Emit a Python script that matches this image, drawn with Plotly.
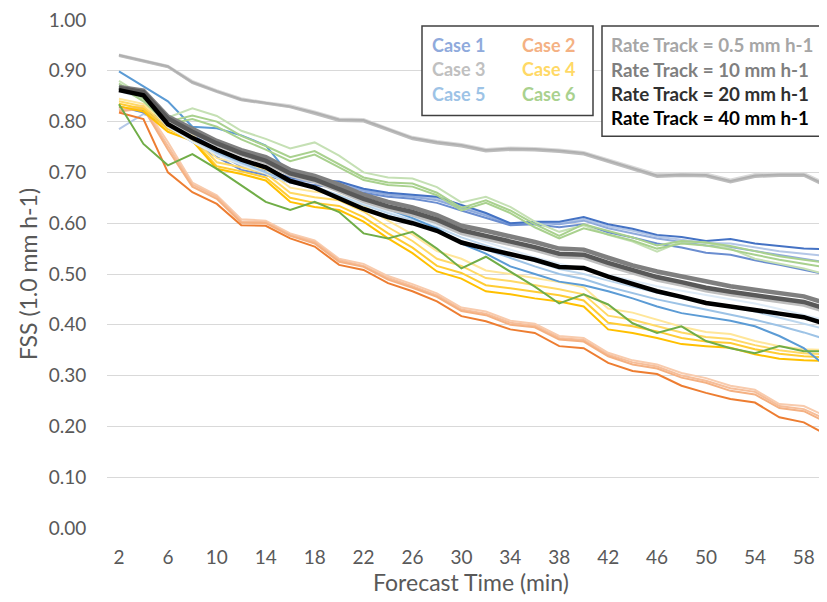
import plotly.graph_objects as go

# forecast lead time (min)
forecast_time = list(range(2, 61, 2))
x_tick_vals = list(range(2, 59, 4))
y_tick_vals = [0.0, 0.1, 0.2, 0.3, 0.4, 0.5, 0.6, 0.7, 0.8, 0.9, 1.0]

rate_labels = ["0.5", "10", "20", "40"]

# Case 1
c1_r05 = [0.785, 0.815, 0.798, 0.772, 0.742, 0.716, 0.703, 0.688, 0.683, 0.679, 0.666, 0.658, 0.654, 0.649, 0.633, 0.617, 0.599, 0.602, 0.600, 0.608, 0.594, 0.585, 0.574, 0.568, 0.561, 0.560, 0.552, 0.545, 0.540, 0.535]
c1_r10 = [0.828, 0.820, 0.795, 0.768, 0.738, 0.712, 0.700, 0.686, 0.680, 0.676, 0.664, 0.656, 0.652, 0.645, 0.630, 0.615, 0.598, 0.601, 0.598, 0.605, 0.590, 0.580, 0.570, 0.563, 0.556, 0.553, 0.545, 0.537, 0.530, 0.522]
c1_r20 = [0.830, 0.818, 0.790, 0.760, 0.730, 0.705, 0.695, 0.680, 0.675, 0.670, 0.660, 0.652, 0.648, 0.640, 0.625, 0.610, 0.596, 0.598, 0.592, 0.598, 0.582, 0.572, 0.560, 0.552, 0.542, 0.538, 0.527, 0.518, 0.508, 0.498]
c1_r40 = [0.826, 0.822, 0.800, 0.775, 0.745, 0.722, 0.705, 0.690, 0.685, 0.682, 0.668, 0.660, 0.656, 0.652, 0.636, 0.620, 0.600, 0.603, 0.603, 0.612, 0.598, 0.589, 0.577, 0.573, 0.565, 0.569, 0.560, 0.555, 0.550, 0.549]

# Case 2
c2_r05 = [0.825, 0.832, 0.760, 0.680, 0.655, 0.608, 0.605, 0.580, 0.566, 0.530, 0.520, 0.496, 0.480, 0.462, 0.434, 0.426, 0.408, 0.402, 0.378, 0.374, 0.345, 0.330, 0.322, 0.305, 0.295, 0.280, 0.272, 0.244, 0.240, 0.218]
c2_r10 = [0.822, 0.829, 0.752, 0.676, 0.652, 0.604, 0.602, 0.577, 0.563, 0.527, 0.516, 0.492, 0.476, 0.458, 0.430, 0.422, 0.404, 0.398, 0.374, 0.370, 0.341, 0.326, 0.318, 0.300, 0.290, 0.275, 0.268, 0.240, 0.234, 0.212]
c2_r20 = [0.820, 0.826, 0.745, 0.672, 0.648, 0.601, 0.600, 0.575, 0.560, 0.524, 0.514, 0.489, 0.473, 0.455, 0.427, 0.419, 0.400, 0.395, 0.371, 0.367, 0.338, 0.322, 0.314, 0.296, 0.286, 0.270, 0.263, 0.236, 0.230, 0.206]
c2_r40 = [0.818, 0.805, 0.700, 0.661, 0.638, 0.596, 0.595, 0.570, 0.554, 0.518, 0.508, 0.482, 0.466, 0.446, 0.417, 0.407, 0.391, 0.384, 0.358, 0.354, 0.325, 0.309, 0.303, 0.280, 0.266, 0.254, 0.247, 0.218, 0.208, 0.182]

# Case 3
c3_r05 = [0.932, 0.921, 0.910, 0.880, 0.862, 0.846, 0.838, 0.832, 0.820, 0.806, 0.805, 0.787, 0.770, 0.762, 0.756, 0.746, 0.749, 0.748, 0.745, 0.740, 0.726, 0.712, 0.697, 0.699, 0.698, 0.686, 0.697, 0.699, 0.699, 0.676]
c3_r10 = [0.930, 0.919, 0.908, 0.877, 0.860, 0.843, 0.836, 0.829, 0.817, 0.803, 0.802, 0.784, 0.767, 0.759, 0.753, 0.743, 0.746, 0.745, 0.742, 0.737, 0.722, 0.708, 0.693, 0.695, 0.694, 0.682, 0.693, 0.695, 0.695, 0.672]
c3_r20 = [0.929, 0.918, 0.907, 0.876, 0.858, 0.842, 0.835, 0.828, 0.815, 0.801, 0.800, 0.782, 0.765, 0.757, 0.751, 0.741, 0.744, 0.743, 0.740, 0.735, 0.720, 0.706, 0.691, 0.693, 0.692, 0.680, 0.691, 0.693, 0.693, 0.670]
c3_r40 = [0.931, 0.920, 0.909, 0.878, 0.860, 0.844, 0.837, 0.830, 0.818, 0.804, 0.803, 0.785, 0.768, 0.760, 0.754, 0.744, 0.747, 0.746, 0.743, 0.738, 0.723, 0.709, 0.694, 0.696, 0.695, 0.683, 0.694, 0.696, 0.696, 0.673]

# Case 4
c4_r05 = [0.845, 0.835, 0.795, 0.775, 0.728, 0.718, 0.706, 0.670, 0.662, 0.656, 0.635, 0.605, 0.578, 0.545, 0.530, 0.507, 0.500, 0.492, 0.484, 0.474, 0.432, 0.424, 0.410, 0.396, 0.386, 0.382, 0.368, 0.358, 0.352, 0.350]
c4_r10 = [0.840, 0.830, 0.790, 0.770, 0.720, 0.710, 0.698, 0.660, 0.651, 0.645, 0.623, 0.592, 0.565, 0.530, 0.516, 0.492, 0.486, 0.478, 0.470, 0.460, 0.418, 0.410, 0.398, 0.385, 0.376, 0.372, 0.360, 0.350, 0.344, 0.342]
c4_r20 = [0.835, 0.825, 0.785, 0.765, 0.712, 0.702, 0.690, 0.650, 0.640, 0.634, 0.612, 0.580, 0.552, 0.516, 0.502, 0.478, 0.472, 0.465, 0.458, 0.448, 0.404, 0.397, 0.387, 0.374, 0.367, 0.364, 0.352, 0.343, 0.338, 0.336]
c4_r40 = [0.830, 0.820, 0.780, 0.762, 0.707, 0.697, 0.684, 0.642, 0.632, 0.626, 0.603, 0.570, 0.541, 0.505, 0.491, 0.466, 0.460, 0.452, 0.446, 0.436, 0.391, 0.384, 0.374, 0.362, 0.358, 0.355, 0.342, 0.333, 0.330, 0.329]

# Case 5
c5_r05 = [0.860, 0.845, 0.790, 0.760, 0.735, 0.715, 0.698, 0.680, 0.670, 0.655, 0.638, 0.624, 0.610, 0.597, 0.578, 0.563, 0.548, 0.533, 0.520, 0.510, 0.498, 0.487, 0.476, 0.467, 0.459, 0.451, 0.442, 0.431, 0.420, 0.408]
c5_r10 = [0.865, 0.850, 0.795, 0.765, 0.738, 0.718, 0.700, 0.682, 0.672, 0.655, 0.636, 0.620, 0.606, 0.592, 0.572, 0.556, 0.540, 0.525, 0.510, 0.500, 0.487, 0.475, 0.463, 0.453, 0.445, 0.436, 0.426, 0.414, 0.402, 0.390]
c5_r20 = [0.870, 0.855, 0.800, 0.770, 0.740, 0.720, 0.700, 0.680, 0.670, 0.650, 0.630, 0.615, 0.600, 0.585, 0.565, 0.548, 0.532, 0.515, 0.500, 0.490, 0.475, 0.462, 0.450, 0.440, 0.430, 0.420, 0.410, 0.398, 0.385, 0.370]
c5_r40 = [0.899, 0.870, 0.840, 0.790, 0.787, 0.773, 0.753, 0.694, 0.688, 0.668, 0.645, 0.628, 0.610, 0.590, 0.560, 0.540, 0.515, 0.500, 0.485, 0.478, 0.466, 0.452, 0.436, 0.423, 0.415, 0.408, 0.397, 0.378, 0.354, 0.315]

# Case 6
c6_r05 = [0.880, 0.850, 0.808, 0.826, 0.811, 0.782, 0.766, 0.747, 0.759, 0.733, 0.700, 0.690, 0.688, 0.671, 0.641, 0.652, 0.632, 0.603, 0.583, 0.596, 0.577, 0.564, 0.544, 0.564, 0.562, 0.550, 0.530, 0.520, 0.511, 0.498]
c6_r10 = [0.875, 0.845, 0.800, 0.812, 0.800, 0.772, 0.752, 0.730, 0.742, 0.716, 0.690, 0.680, 0.678, 0.660, 0.630, 0.645, 0.625, 0.598, 0.575, 0.598, 0.585, 0.572, 0.556, 0.565, 0.562, 0.555, 0.545, 0.535, 0.528, 0.522]
c6_r20 = [0.870, 0.840, 0.795, 0.805, 0.790, 0.765, 0.745, 0.722, 0.735, 0.710, 0.685, 0.675, 0.672, 0.655, 0.625, 0.640, 0.620, 0.592, 0.570, 0.590, 0.578, 0.566, 0.550, 0.560, 0.556, 0.548, 0.538, 0.528, 0.520, 0.512]
c6_r40 = [0.834, 0.756, 0.714, 0.736, 0.707, 0.675, 0.642, 0.626, 0.642, 0.622, 0.580, 0.570, 0.583, 0.550, 0.511, 0.534, 0.505, 0.475, 0.442, 0.460, 0.440, 0.403, 0.384, 0.397, 0.368, 0.354, 0.344, 0.358, 0.348, 0.348]

# mean over all cases, per rate track
avg_r05 = [0.865, 0.857, 0.803, 0.778, 0.755, 0.736, 0.720, 0.695, 0.683, 0.664, 0.644, 0.629, 0.617, 0.602, 0.581, 0.570, 0.560, 0.548, 0.535, 0.533, 0.517, 0.502, 0.489, 0.479, 0.468, 0.460, 0.453, 0.447, 0.440, 0.425]
avg_r10 = [0.868, 0.861, 0.810, 0.785, 0.762, 0.744, 0.730, 0.705, 0.693, 0.676, 0.656, 0.642, 0.631, 0.616, 0.595, 0.585, 0.575, 0.563, 0.550, 0.548, 0.532, 0.517, 0.505, 0.495, 0.484, 0.476, 0.469, 0.463, 0.456, 0.441]
avg_r20 = [0.866, 0.858, 0.806, 0.780, 0.757, 0.738, 0.723, 0.698, 0.686, 0.668, 0.648, 0.633, 0.622, 0.607, 0.586, 0.575, 0.565, 0.553, 0.540, 0.538, 0.522, 0.507, 0.494, 0.484, 0.473, 0.465, 0.458, 0.452, 0.445, 0.430]
avg_r40 = [0.862, 0.852, 0.795, 0.768, 0.745, 0.725, 0.710, 0.683, 0.670, 0.650, 0.628, 0.612, 0.600, 0.585, 0.562, 0.550, 0.540, 0.528, 0.514, 0.512, 0.495, 0.480, 0.466, 0.455, 0.443, 0.436, 0.428, 0.422, 0.415, 0.400]

cases = {
    "Case 1": [c1_r05, c1_r10, c1_r20, c1_r40],
    "Case 2": [c2_r05, c2_r10, c2_r20, c2_r40],
    "Case 3": [c3_r05, c3_r10, c3_r20, c3_r40],
    "Case 4": [c4_r05, c4_r10, c4_r20, c4_r40],
    "Case 5": [c5_r05, c5_r10, c5_r20, c5_r40],
    "Case 6": [c6_r05, c6_r10, c6_r20, c6_r40],
}
averages = [avg_r05, avg_r10, avg_r20, avg_r40]

# shades light -> dark for rate 0.5, 10, 20, 40
case_colors = {
    "Case 1": ["#B4C7E7", "#8FAADC", "#6A8DD0", "#4472C4"],
    "Case 2": ["#F8CBAD", "#F6BE9A", "#F4B183", "#ED7D31"],
    "Case 3": ["#D9D9D9", "#C9C9C9", "#BDBDBD", "#B0B0B0"],
    "Case 4": ["#FFE699", "#FFD966", "#FFCC33", "#FFC000"],
    "Case 5": ["#DEEBF7", "#BDD7EE", "#9DC3E6", "#5B9BD5"],
    "Case 6": ["#C5E0B4", "#A9D18E", "#A9D18E", "#70AD47"],
}
legend_case_colors = {
    "Case 1": "#8FAADC", "Case 2": "#F4B183", "Case 3": "#C0C0C0",
    "Case 4": "#FFD966", "Case 5": "#9DC3E6", "Case 6": "#A9D18E",
}
avg_colors = ["#BFBFBF", "#7F7F7F", "#595959", "#000000"]
rate_text_colors = ["#A6A6A6", "#7F7F7F", "#303030", "#000000"]

FONT = "Lato"
# page body has an 8px margin, so the figure sits 8px right/down in the window
OFF = 8
W, H = 827, 602
ML, MR, MT, MB = 107 - OFF, 0, 17 - OFF, 602 - 528 + OFF


def px(x):
    return (x - OFF - ML) / (W - ML - MR)


def py(y):
    return (H - MB - (y - OFF)) / (H - MT - MB)


fig = go.Figure()

for name, series in cases.items():
    for i, vals in enumerate(series):
        fig.add_trace(
            go.Scatter(
                x=forecast_time,
                y=vals,
                mode="lines",
                line=dict(color=case_colors[name][i], width=2),
                name=f"{name} {rate_labels[i]}",
                showlegend=False,
            )
        )

for i, vals in enumerate(averages):
    fig.add_trace(
        go.Scatter(
            x=forecast_time,
            y=vals,
            mode="lines",
            line=dict(color=avg_colors[i], width=4.5),
            name=f"Rate Track = {rate_labels[i]} mm h-1",
            showlegend=False,
        )
    )

# legend boxes (drawn by hand like the original)
fig.add_shape(type="rect", xref="paper", yref="paper",
              x0=px(422), x1=px(593), y0=py(113), y1=py(23),
              line=dict(color="#404040", width=1.5), fillcolor="white", layer="above")
fig.add_shape(type="rect", xref="paper", yref="paper",
              x0=px(602), x1=px(850), y0=py(134), y1=py(23),
              line=dict(color="#404040", width=1.5), fillcolor="white", layer="above")

case_pos = {
    "Case 1": (430, 42), "Case 2": (520, 42),
    "Case 3": (430, 66), "Case 4": (520, 66),
    "Case 5": (430, 91), "Case 6": (520, 91),
}
annotations = []
for name, (ax, ay) in case_pos.items():
    annotations.append(dict(
        text=f"<b>{name}</b>", x=px(ax), y=py(ay), xref="paper", yref="paper",
        xanchor="left", yanchor="middle", showarrow=False,
        font=dict(family=FONT, size=18, color=legend_case_colors[name]),
    ))
for i, lab in enumerate(rate_labels):
    annotations.append(dict(
        text=f"<b>Rate Track = {lab} mm h-1</b>", x=px(609), y=py(42 + i * 24.5),
        xref="paper", yref="paper", xanchor="left", yanchor="middle", showarrow=False,
        font=dict(family=FONT, size=18.8, color=rate_text_colors[i]),
    ))

fig.update_layout(
    width=W,
    height=H,
    margin=dict(l=ML, r=MR, t=MT, b=MB),
    plot_bgcolor="white",
    paper_bgcolor="white",
    font=dict(family=FONT, color="#595959"),
    annotations=annotations,
    xaxis=dict(
        range=[1.02, 60.55],
        tickvals=x_tick_vals,
        ticktext=[str(v) for v in x_tick_vals],
        showgrid=False,
        zeroline=False,
        showline=False,
        ticks="outside",
        ticklen=12,
        tickcolor="rgba(0,0,0,0)",
        tickfont=dict(size=19, color="#595959"),
        title=dict(text="Forecast Time (min)", font=dict(size=23, color="#595959"), standoff=6),
    ),
    yaxis=dict(
        range=[0, 1.0],
        tickvals=y_tick_vals,
        tickformat=".2f",
        showgrid=True,
        gridcolor="#D9D9D9",
        gridwidth=1,
        zeroline=False,
        showline=False,
        ticks="outside",
        ticklen=16,
        tickcolor="rgba(0,0,0,0)",
        ticklabeloverflow="allow",
        tickfont=dict(size=19, color="#595959"),
        title=dict(text="FSS (1.0 mm h-1)", font=dict(size=23, color="#595959"), standoff=4),
    ),
)

fig.write_html("out.html")
